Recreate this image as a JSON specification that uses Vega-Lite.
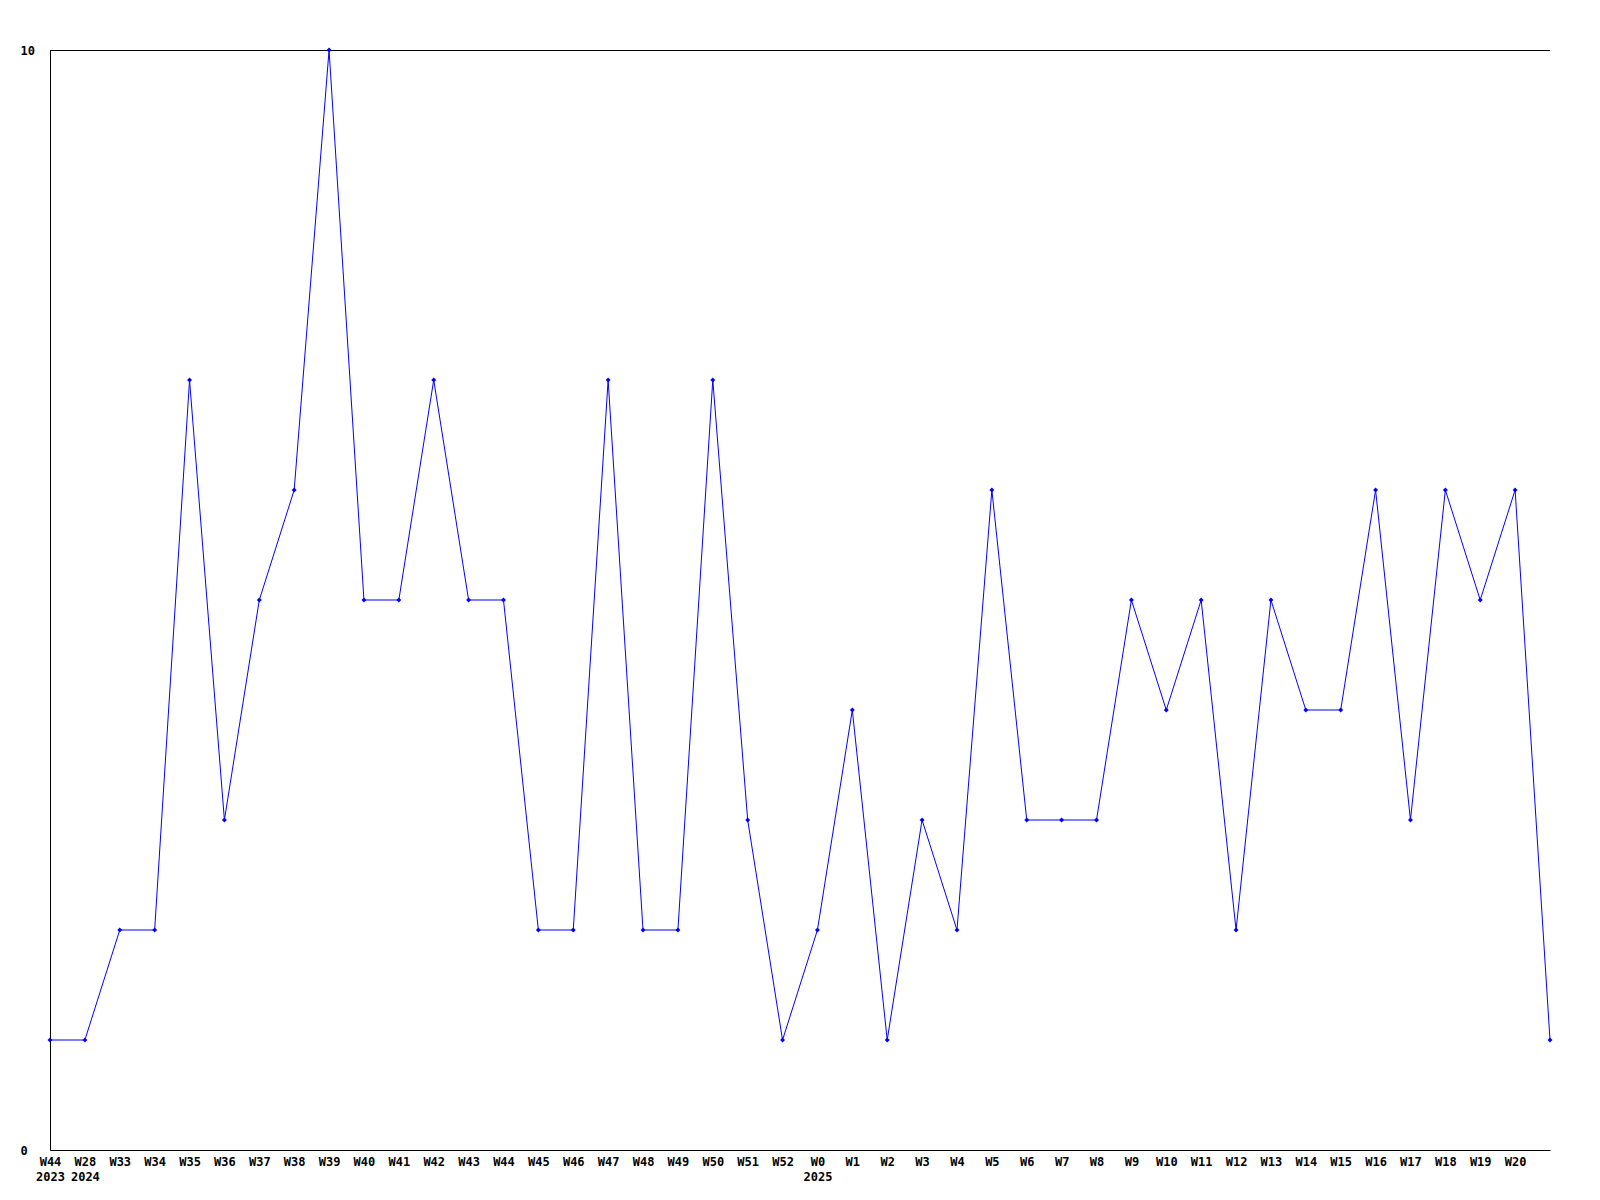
{
  "$schema": "https://vega.github.io/schema/vega-lite/v6.json",
  "width": 1500,
  "height": 1100,
  "autosize": {"type": "none"},
  "padding": {"left": 50, "top": 50, "right": 50, "bottom": 50},
  "background": "white",
  "config": {
    "view": {"stroke": null},
    "font": "DejaVu Sans Mono"
  },
  "data": {
    "values": [
      {"wk": "W44|2023", "v": 1},
      {"wk": "W28|2024", "v": 1},
      {"wk": "W33", "v": 2},
      {"wk": "W34", "v": 2},
      {"wk": "W35", "v": 7},
      {"wk": "W36", "v": 3},
      {"wk": "W37", "v": 5},
      {"wk": "W38", "v": 6},
      {"wk": "W39", "v": 10},
      {"wk": "W40", "v": 5},
      {"wk": "W41", "v": 5},
      {"wk": "W42", "v": 7},
      {"wk": "W43", "v": 5},
      {"wk": "W44", "v": 5},
      {"wk": "W45", "v": 2},
      {"wk": "W46", "v": 2},
      {"wk": "W47", "v": 7},
      {"wk": "W48", "v": 2},
      {"wk": "W49", "v": 2},
      {"wk": "W50", "v": 7},
      {"wk": "W51", "v": 3},
      {"wk": "W52", "v": 1},
      {"wk": "W0|2025", "v": 2},
      {"wk": "W1", "v": 4},
      {"wk": "W2", "v": 1},
      {"wk": "W3", "v": 3},
      {"wk": "W4", "v": 2},
      {"wk": "W5", "v": 6},
      {"wk": "W6", "v": 3},
      {"wk": "W7", "v": 3},
      {"wk": "W8", "v": 3},
      {"wk": "W9", "v": 5},
      {"wk": "W10", "v": 4},
      {"wk": "W11", "v": 5},
      {"wk": "W12", "v": 2},
      {"wk": "W13", "v": 5},
      {"wk": "W14", "v": 4},
      {"wk": "W15", "v": 4},
      {"wk": "W16", "v": 6},
      {"wk": "W17", "v": 3},
      {"wk": "W18", "v": 6},
      {"wk": "W19", "v": 5},
      {"wk": "W20", "v": 6},
      {"wk": "W21_", "v": 1}
    ]
  },
  "layer": [
    {
      "mark": {"type": "rule", "color": "black", "strokeWidth": 1, "yOffset": 0.5},
      "encoding": {"y": {"datum": 10, "type": "quantitative"}}
    },
    {
      "mark": {
        "type": "line",
        "color": "#0000ff",
        "strokeWidth": 1,
        "point": {"shape": "diamond", "size": 24, "filled": true, "color": "#0000ff"}
      },
      "encoding": {
        "x": {
          "field": "wk",
          "type": "ordinal",
          "sort": null,
          "scale": {"type": "point", "padding": 0},
          "axis": {
            "title": null,
            "labelAngle": 0,
            "ticks": false,
            "grid": false,
            "domainColor": "black",
            "domainWidth": 1,
            "labelPadding": 6,
            "labelFont": "DejaVu Sans Mono",
            "labelFontWeight": "bold",
            "labelFontSize": 12,
            "labelColor": "black",
            "labelAlign": "center",
            "labelBaseline": "top",
            "labelLineHeight": 15,
            "labelOverlap": false,
            "labelFlush": false,
            "labelExpr": "datum.value == 'W21_' ? '' : split(datum.value, '|')"
          }
        },
        "y": {
          "field": "v",
          "type": "quantitative",
          "scale": {"domain": [0, 10], "nice": false},
          "axis": {
            "title": null,
            "values": [0, 10],
            "format": "d",
            "ticks": false,
            "grid": false,
            "domainColor": "black",
            "domainWidth": 1,
            "labelPadding": 30,
            "labelAlign": "left",
            "labelBaseline": "middle",
            "labelFont": "DejaVu Sans Mono",
            "labelFontWeight": "bold",
            "labelFontSize": 12,
            "labelColor": "black"
          }
        }
      }
    }
  ]
}
